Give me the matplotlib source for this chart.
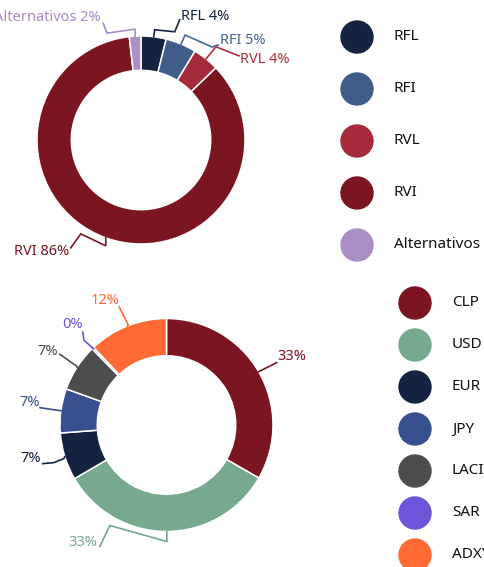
import numpy as np
import matplotlib.pyplot as plt

plt.rcParams['font.family'] = ['Noto Sans', 'DejaVu Sans']

W, H = 485, 567

# top donut: asset classes
asset_labels = ["RFL", "RFI", "RVL", "RVI", "Alternativos"]
asset_values = [3.9, 4.8, 4.1, 85.4, 1.8]
asset_pct = ["4%", "5%", "4%", "86%", "2%"]

# bottom donut: currencies
currency_labels = ["CLP", "USD", "EUR", "JPY", "LACI", "SAR", "ADXY"]
currency_values = [33.3, 33.3, 7.2, 6.7, 7.2, 0.3, 12.0]
currency_pct = ["33%", "33%", "7%", "7%", "7%", "0%", "12%"]

asset_colors = ["#14233f", "#405c89", "#a52a3a", "#7b1621", "#ac8ec6"]
asset_text = ["#14233f", "#4a6696", "#b0303f", "#7b1621", "#a98cc8"]
currency_colors = ["#7b1621", "#76a98d", "#14233f", "#38508f", "#4d4d4d",
                   "#6e55d9", "#ff6a35"]
currency_text = ["#7b1621", "#76a98d", "#14233f", "#38508f", "#4d4d4d",
                 "#6e55d9", "#ff6a35"]

# connector bends (pixels, y down) from the slice edge, then text offset
asset_conn = [
    ([(1, -7), (21, -5), (26, -17)], (1, -3), "left"),
    ([(4, -9), (31, 3), (37, 1)], (2, -5), "left"),
    ([(10, -12), (33, -3)], (1, 4), "left"),
    ([(0, 8), (-25, -4), (-35, 10)], (-2, 4), "right"),
    ([(0, -7), (-28, -3), (-32, -13)], (-2, -6), "right"),
]
currency_conn = [
    ([(18, -9)], (1, -6), "left"),
    ([(0, 10), (-57, -6), (-67, 15)], (-2, -4), "right"),
    ([(-1, 2), (-11, 6), (-22, 7)], (-2, -5), "right"),
    ([(-1, 0), (-21, -3)], (0, -5), "right"),
    ([(0, -1), (-17, -13)], (-2, -3), "right"),
    ([(1, 1), (-9, -8), (-10, -16)], (0, -8), "right"),
    ([(1, -1), (-8, -19)], (0, -6), "right"),
]

fig = plt.figure(figsize=(W / 100, H / 100), dpi=100)
ax = fig.add_axes([0, 0, 1, 1])
ax.set_xlim(0, W)
ax.set_ylim(0, H)
ax.set_aspect("equal")
ax.axis("off")


def donut(values, colors, center, radius, width, names, pcts, conn, tcolors):
    wedges, _ = ax.pie(values, colors=colors, startangle=90, counterclock=False,
                       center=center, radius=radius,
                       wedgeprops=dict(width=radius * width, edgecolor="white",
                                       linewidth=1.1))
    for w, name, pct, (pts, toff, ha), tc in zip(wedges, names, pcts, conn, tcolors):
        mid = np.deg2rad((w.theta1 + w.theta2) / 2)
        x0 = center[0] + radius * np.cos(mid)
        y0 = center[1] + radius * np.sin(mid)
        xs = [x0] + [x0 + dx for dx, dy in pts]
        ys = [y0] + [y0 - dy for dx, dy in pts]
        ax.plot(xs, ys, color=tc, lw=1.2, solid_joinstyle="miter")
        label = f"{name} {pct}" if name else pct
        ax.text(xs[-1] + toff[0], ys[-1] - toff[1], label, color=tc,
                fontsize=10.5, ha=ha, va="center")


donut(asset_values, asset_colors, (141, H - 140), 104, 0.33, asset_labels,
      asset_pct, asset_conn, asset_text)
donut(currency_values, currency_colors, (166.5, H - 425), 106.5, 0.35,
      [""] * len(currency_labels), currency_pct, currency_conn, currency_text)

# legends
for i, (name, c) in enumerate(zip(asset_labels, asset_colors)):
    y = H - (37 + 52 * i)
    ax.add_patch(plt.Circle((357, y), 16, color=c))
    ax.text(394, y, name, fontsize=11, va="center", ha="left", color="#111111")

for i, (name, c) in enumerate(zip(currency_labels, currency_colors)):
    y = H - (303 + 42 * i)
    ax.add_patch(plt.Circle((415, y), 16, color=c))
    ax.text(452, y, name, fontsize=11, va="center", ha="left", color="#111111")

ax.set_xlim(0, W)
ax.set_ylim(0, H)
fig.savefig("out.png", dpi=100)
